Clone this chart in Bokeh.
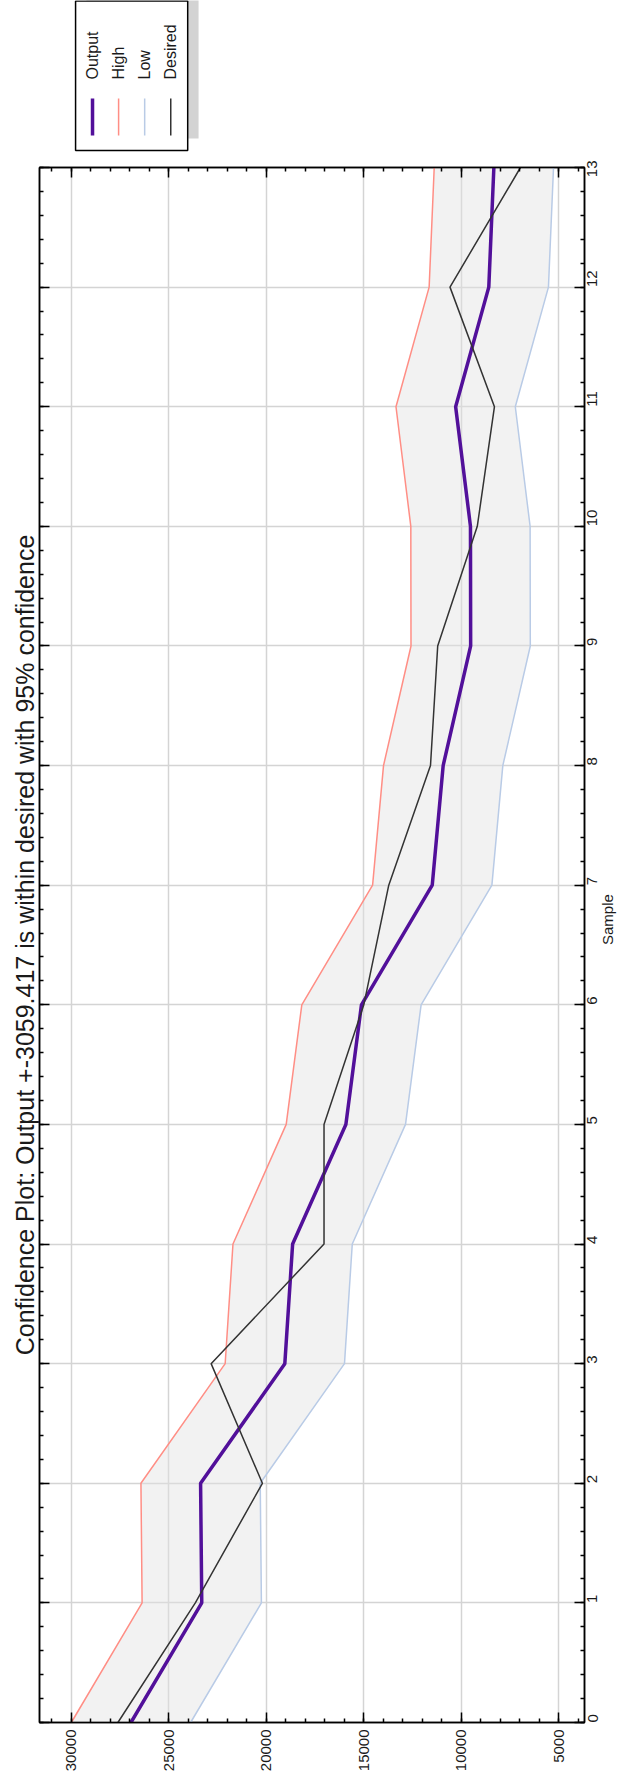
import math
from bokeh.plotting import figure
from bokeh.models import (Range1d, LinearAxis, SingleIntervalTicker, ColumnDataSource,
                          CustomJSTickFormatter)
from bokeh.layouts import column
from bokeh.embed import file_html
from bokeh.resources import INLINE
from bokeh.core.properties import value

# ---------------- data ----------------
samples = [0, 1, 2, 3, 4, 5, 6, 7, 8, 9, 10, 11, 12, 13]
output = [26950, 23320, 23380, 19060, 18660, 15930, 15130, 11500, 10940, 9530, 9540, 10300, 8600, 8340]
high = [30009, 26379, 26439, 22119, 21719, 18989, 18189, 14559, 13999, 12589, 12599, 13359, 11659, 11399]
low = [23891, 20261, 20321, 16001, 15601, 12871, 12071, 8441, 7881, 6471, 6481, 7241, 5541, 5281]
desired = [27620, 23650, 20210, 22840, 17050, 17050, 15010, 13730, 11590, 11220, 9190, 8310, 10590, 6975]

series_names = ["Output", "High", "Low", "Desired"]
title_text = "Confidence Plot: Output +-3059.417 is within desired with 95% confidence"
sample_label = "Sample"
value_interval = 5000
value_min, value_max = 3692, 31641
sample_min, sample_max = 0, 13

# ---------------- styles ----------------
FONT = "Liberation Sans"
C_OUT, C_HIGH, C_LOW, C_DES = "#52109a", "#ff8e85", "#b9cbe6", "#333333"
colors = [C_OUT, C_HIGH, C_LOW, C_DES]
widths = [3.5, 1.5, 1.5, 1.5]
TXT = "#1a1a1a"

# ---------------- main plot ----------------
p = figure(frame_width=545, frame_height=1555,
           x_range=Range1d(value_max, value_min), y_range=Range1d(sample_min, sample_max),
           x_axis_location="below", y_axis_location="right",
           toolbar_location=None, output_backend="svg",
           min_border_left=39, min_border_right=43, min_border_top=7, min_border_bottom=51,
           title=title_text, title_location="left",
           background_fill_color="white", border_fill_color="white",
           outline_line_color="black", outline_line_width=1.5)

p.title.align = "center"
p.title.text_font = FONT
p.title.text_font_size = "25px"
p.title.text_font_style = "normal"
p.title.text_color = TXT
p.title.standoff = 2
p.title.offset = 0

vt = SingleIntervalTicker(interval=value_interval, num_minor_ticks=5)
st = SingleIntervalTicker(interval=1, num_minor_ticks=5)

xax = p.xaxis[0]
yax = p.yaxis[0]
xax.ticker = vt
yax.ticker = st
for ax in (xax, yax):
    ax.major_tick_in = 10
    ax.major_tick_out = 0
    ax.minor_tick_in = 4
    ax.minor_tick_out = 0
    ax.axis_line_color = "black"
    ax.axis_line_width = 1.5
    ax.major_tick_line_width = 1.5
    ax.minor_tick_line_width = 1.5
    ax.major_label_text_font = FONT
    ax.major_label_text_font_size = "15px"
    ax.major_label_text_color = TXT
    ax.major_label_orientation = math.pi / 2
xax.major_label_standoff = 7
yax.major_label_standoff = 8
yax.axis_label = sample_label
yax.axis_label_text_font = FONT
yax.axis_label_text_font_size = "15px"
yax.axis_label_text_font_style = "normal"
yax.axis_label_text_color = TXT
yax.axis_label_standoff = 2
try:
    yax.axis_label_orientation = math.pi / 2
except Exception:
    pass

blank = CustomJSTickFormatter(code="return ''")
top_ax = LinearAxis(ticker=vt, formatter=blank, major_label_standoff=0,
                    major_tick_in=10, major_tick_out=0, minor_tick_in=4, minor_tick_out=0,
                    axis_line_width=1.5, major_tick_line_width=1.5, minor_tick_line_width=1.5)
left_ax = LinearAxis(ticker=st, formatter=blank, major_label_standoff=0,
                     major_tick_in=10, major_tick_out=0, minor_tick_in=4, minor_tick_out=0,
                     axis_line_width=1.5, major_tick_line_width=1.5, minor_tick_line_width=1.5)
p.add_layout(top_ax, "above")
p.add_layout(left_ax, "left")

p.xgrid.ticker = vt
p.ygrid.ticker = st
p.grid.grid_line_color = "#d4d4d4"
p.grid.grid_line_width = 1.5
p.xgrid.minor_grid_line_color = None
p.ygrid.minor_grid_line_color = None

src = ColumnDataSource(dict(sample=samples, output=output, high=high, low=low, desired=desired))
p.harea(x1="high", x2="low", y="sample", source=src, fill_color="#e2e2e2", fill_alpha=0.45)
p.line(x="high", y="sample", source=src, line_color=C_HIGH, line_width=1.5)
p.line(x="low", y="sample", source=src, line_color=C_LOW, line_width=1.5)
p.line(x="output", y="sample", source=src, line_color=C_OUT, line_width=3.5)
p.line(x="desired", y="sample", source=src, line_color=C_DES, line_width=1.5)

# ---------------- legend (rotated, drawn above the plot) ----------------
LW, LH = 627, 160
lg = figure(width=LW, height=LH, x_range=Range1d(0, LW), y_range=Range1d(0, LH),
            toolbar_location=None, output_backend="svg", min_border=0,
            x_axis_location=None, y_axis_location=None, outline_line_color=None,
            background_fill_color="white", border_fill_color="white")
lg.xgrid.visible = False
lg.ygrid.visible = False

box_l, box_r, box_b, box_t = 41.5, 170.5, 10, 159.5
shadow_dx, shadow_dy = 12.5, 12
lg.quad(left=[box_l + shadow_dx], right=[box_r + shadow_dx], bottom=[box_b + shadow_dy],
        top=[box_t + shadow_dy], fill_color="#d3d3d3", line_color=None)
lg.quad(left=[box_l], right=[box_r], bottom=[box_b], top=[box_t],
        fill_color="white", line_color="black", line_width=1.5)
entry_x = [61 + 30 * i for i in range(len(series_names))]
for i, nm in enumerate(series_names):
    lg.segment(x0=[entry_x[i]], y0=[25], x1=[entry_x[i]], y1=[62],
               line_color=colors[i], line_width=widths[i])
lg.text(x=entry_x, y=[81] * len(series_names), text=series_names, angle=math.pi / 2,
        text_align="left", text_baseline="middle", text_font=value(FONT),
        text_font_size="16px", text_color=TXT)

layout = column(lg, p, spacing=0)
open("out.html", "w").write(file_html(layout, INLINE))
